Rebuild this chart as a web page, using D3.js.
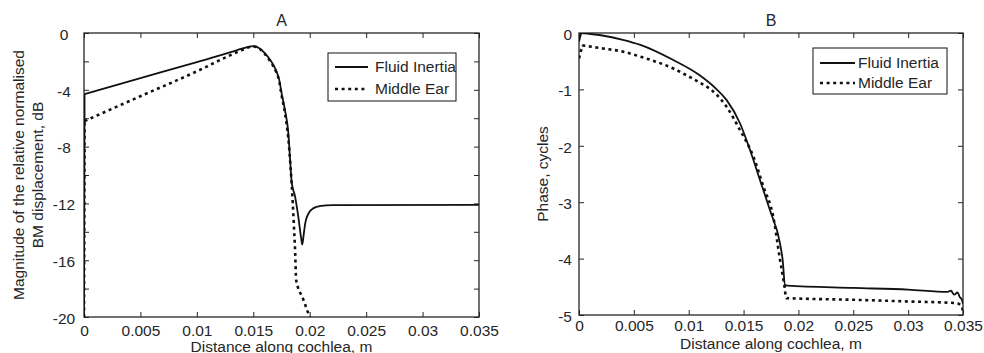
<!DOCTYPE html>
<html lang="en">
<head>
<meta charset="UTF-8">
<title>BM displacement: fluid inertia vs middle ear</title>
<script src="https://cdnjs.cloudflare.com/ajax/libs/d3/7.8.5/d3.min.js"></script>
<style>
  body { margin: 0; background: #fff; }
  svg text { font-family: Arial, "Liberation Sans", sans-serif; fill: #262626; }
  .axis path, .axis line { stroke: #262626; }
</style>
</head>
<body>
<svg id="chart" width="984" height="353"></svg>
<script>
// tick values / labels
const distTicks = [0, 0.005, 0.01, 0.015, 0.02, 0.025, 0.03, 0.035];
const distTickLabels = ["0", "0.005", "0.01", "0.015", "0.02", "0.025", "0.03", "0.035"];
const magTicks = [-20, -18, -16, -14, -12, -10, -8, -6, -4, -2, 0];
const magTickLabels = ["-20", "", "-16", "", "-12", "", "-8", "", "-4", "", "0"];
const phaseTicks = [-5, -4, -3, -2, -1, 0];
const phaseTickLabels = ["-5", "-4", "-3", "-2", "-1", "0"];
const seriesNames = ["Fluid Inertia", "Middle Ear"];

// A: magnitude (dB) vs distance (m)
const magFluid = [
  [0, -20], [0.00005, -4.3], [0.005, -3.18], [0.010, -2.05], [0.013, -1.35],
  [0.014, -1.1], [0.0146, -0.97], [0.015, -0.93], [0.0155, -1.05], [0.016, -1.4],
  [0.0165, -1.9], [0.017, -2.6], [0.0173, -3.3], [0.0175, -4.2], [0.0178, -5.4],
  [0.0181, -7.0], [0.0183, -9.4], [0.0184, -10.5], [0.0187, -11.5], [0.019, -13.0],
  [0.01925, -14.5], [0.01934, -14.9], [0.01945, -14.3], [0.0196, -13.4],
  [0.0199, -12.7], [0.0203, -12.35], [0.021, -12.18], [0.022, -12.12], [0.035, -12.1]
];
const magMiddle = [
  [0, -20], [0.00005, -6.2], [0.005, -4.45], [0.010, -2.7], [0.013, -1.55],
  [0.014, -1.2], [0.0146, -1.0], [0.015, -0.95], [0.0155, -1.08], [0.016, -1.45],
  [0.0165, -2.0], [0.017, -2.7], [0.0173, -3.4], [0.0175, -4.35], [0.0178, -5.6],
  [0.0181, -7.4], [0.0183, -9.4], [0.0184, -10.6], [0.0185, -12.0], [0.0186, -13.6],
  [0.0187, -15.2], [0.0188, -17.4], [0.0194, -18.7], [0.0200, -20], [0.0205, -21]
];

// B: phase (cycles) vs distance (m)
const phaseFluid = [
  [0, -0.15], [0.0002, 0], [0.002, -0.04], [0.004, -0.12], [0.0056, -0.21],
  [0.0086, -0.48], [0.011, -0.75], [0.0125, -0.99], [0.01346, -1.19], [0.01467, -1.6],
  [0.01558, -2.07], [0.0165, -2.61], [0.0174, -3.14], [0.01832, -3.73],
  [0.01856, -4.02], [0.01878, -4.47], [0.0190, -4.48], [0.025, -4.52], [0.030, -4.55],
  [0.0336, -4.59], [0.0339, -4.57], [0.0342, -4.64], [0.0345, -4.6], [0.0347, -4.68],
  [0.0349, -4.73], [0.035, -4.8]
];
const phaseMiddle = [
  [0, -0.45], [0.0003, -0.22], [0.002, -0.27], [0.004, -0.33], [0.0056, -0.42],
  [0.0086, -0.63], [0.011, -0.88], [0.01164, -0.95], [0.01346, -1.31], [0.01467, -1.72],
  [0.01589, -2.19], [0.0168, -2.72], [0.01771, -3.26], [0.01832, -4.02],
  [0.0187, -4.45], [0.0189, -4.70], [0.025, -4.73], [0.030, -4.76], [0.0344, -4.79],
  [0.0349, -4.85], [0.035, -4.95]
];

const svg = d3.select("#chart");
const ink = "#111";

const panels = [
  { title: "A", box: [84, 479, 33, 317], yDomain: [-20, 0], yTicks: magTicks, yLabels: magTickLabels,
    series: [magFluid, magMiddle], ylab: ["Magnitude of the relative normalised", "BM displacement, dB"],
    ylabX: 19, yLabAnchor: "middle", yLabOff: -20, xlabY: 352, tickBase: 19,
    legend: { x: 328, y: 53, w: 128, h: 48, rows: [67, 89], l0: 335, l1: 368, tx: 375 } },
  { title: "B", box: [579, 963, 33, 315], yDomain: [-5, 0], yTicks: phaseTicks, yLabels: phaseTickLabels,
    series: [phaseFluid, phaseMiddle], ylab: ["Phase, cycles"],
    ylabX: 543, yLabAnchor: "end", yLabOff: -7, xlabY: 349, tickBase: 16,
    legend: { x: 813, y: 48, w: 134, h: 46, rows: [63, 83], l0: 820, l1: 855, tx: 858 } }
];

panels.forEach((p, pi) => {
  const [x0, x1, y0, y1] = p.box;
  const x = d3.scaleLinear().domain([0, 0.035]).range([x0, x1]);
  const y = d3.scaleLinear().domain(p.yDomain).range([y1, y0]);

  const clipId = "clip" + pi;
  svg.append("clipPath").attr("id", clipId)
    .append("rect").attr("x", x0).attr("y", y0).attr("width", x1 - x0).attr("height", y1 - y0);

  // axes, ticks pointing inward
  const bottom = svg.append("g").attr("class", "axis").attr("transform", `translate(0,${y1})`)
    .call(d3.axisBottom(x).tickValues(distTicks).tickSizeInner(-5).tickSizeOuter(0)
      .tickPadding(p.tickBase).tickFormat((d, i) => distTickLabels[i]));
  bottom.selectAll("text").attr("font-size", 15.5).attr("dy", "0");

  svg.append("g").attr("class", "axis").attr("transform", `translate(0,${y0})`)
    .call(d3.axisTop(x).tickValues(distTicks).tickSizeInner(-5).tickSizeOuter(0).tickFormat(""));

  const left = svg.append("g").attr("class", "axis").attr("transform", `translate(${x0},0)`)
    .call(d3.axisLeft(y).tickValues(p.yTicks).tickSizeInner(-5).tickSizeOuter(0)
      .tickFormat((d, i) => p.yLabels[i]));
  left.selectAll("text").attr("font-size", 15.5).attr("x", p.yLabOff)
    .attr("text-anchor", p.yLabAnchor).attr("dy", "0.4em");

  svg.append("g").attr("class", "axis").attr("transform", `translate(${x1},0)`)
    .call(d3.axisRight(y).tickValues(p.yTicks).tickSizeInner(-5).tickSizeOuter(0).tickFormat(""));

  svg.selectAll(".axis .domain").remove();
  svg.append("rect").attr("x", x0).attr("y", y0).attr("width", x1 - x0).attr("height", y1 - y0)
    .attr("fill", "none").attr("stroke", "#262626").attr("stroke-width", 1.3);

  // curves: the jump at x=0 straight, the rest smoothed
  const jump = d3.line().x(d => x(d[0])).y(d => y(d[1]));
  const smooth = d3.line().x(d => x(d[0])).y(d => y(d[1])).curve(d3.curveMonotoneX);
  const g = svg.append("g").attr("clip-path", `url(#${clipId})`);
  const styles = [
    { w: 1.8, dash: null },
    { w: 2.6, dash: "3,3.6" }
  ];
  [1, 0].forEach(si => {
    const data = p.series[si];
    [jump(data.slice(0, 2)), smooth(data.slice(1))].forEach(dstr => {
      g.append("path").attr("d", dstr).attr("fill", "none")
        .attr("stroke", ink).attr("stroke-width", styles[si].w)
        .attr("stroke-dasharray", styles[si].dash);
    });
  });

  // titles and labels
  svg.append("text").attr("x", (x0 + x1) / 2).attr("y", 26).attr("text-anchor", "middle")
    .attr("font-size", 16).text(p.title);
  svg.append("text").attr("x", (x0 + x1) / 2).attr("y", p.xlabY).attr("text-anchor", "middle")
    .attr("font-size", 15.5).text("Distance along cochlea, m");

  const yl = svg.append("text").attr("text-anchor", "middle").attr("font-size", 15.5)
    .attr("transform", `translate(${p.ylabX},${(y0 + y1) / 2}) rotate(-90)`);
  p.ylab.forEach((t, i) => {
    yl.append("tspan").attr("x", 0).attr("dy", i === 0 ? "0.35em" : "1.2em").text(t);
  });

  // legend
  const L = p.legend;
  svg.append("rect").attr("x", L.x).attr("y", L.y).attr("width", L.w).attr("height", L.h)
    .attr("fill", "#fff").attr("stroke", "#262626").attr("stroke-width", 1.1);
  seriesNames.forEach((name, i) => {
    svg.append("line").attr("x1", L.l0).attr("x2", L.l1).attr("y1", L.rows[i]).attr("y2", L.rows[i])
      .attr("stroke", ink).attr("stroke-width", styles[i].w)
      .attr("stroke-dasharray", styles[i].dash);
    svg.append("text").attr("x", L.tx).attr("y", L.rows[i]).attr("dy", "0.35em")
      .attr("font-size", 15.5).text(name);
  });
});
</script>
</body>
</html>
